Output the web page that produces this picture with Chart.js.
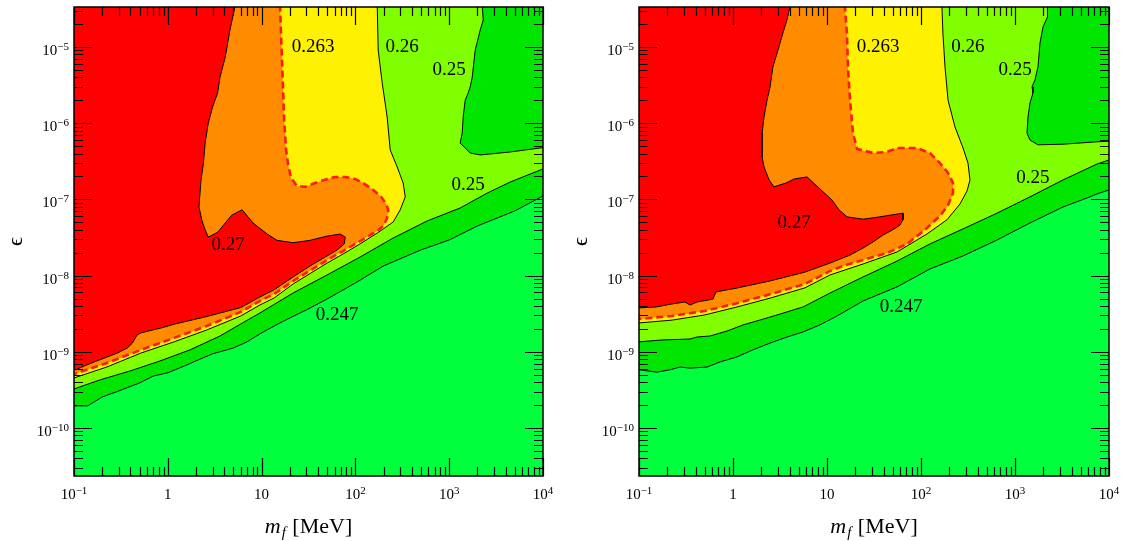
<!DOCTYPE html>
<html><head><meta charset="utf-8">
<script src="https://cdn.jsdelivr.net/npm/chart.js@4.4.1/dist/chart.umd.min.js"></script>
<style>
html,body{margin:0;padding:0;background:#fff;overflow:hidden;}
#wrap{position:relative;width:1126px;height:541px;}
canvas{position:absolute;top:0;}
</style></head><body>
<div id="wrap">
<canvas id="cL" width="563" height="541" style="left:0"></canvas>
<canvas id="cR" width="563" height="541" style="left:563px"></canvas>
</div>
<script>
// ---------- axes / tick labels ----------
const xRange = [0.1, 1e4];
const yRange = [2.34e-11, 3.35e-5];
const xTicks = [0.1, 1, 10, 100, 1000, 10000];
const xTickText = [['10','\u22121'],['1',''],['10',''],['10','2'],['10','3'],['10','4']];
const yTicks = [1e-10, 1e-9, 1e-8, 1e-7, 1e-6, 1e-5];
const yTickText = [['10','\u221210'],['10','\u22129'],['10','\u22128'],['10','\u22127'],['10','\u22126'],['10','\u22125']];
const xTitle = ['m', 'f', ' [MeV]'];
const yTitle = '\u03F5';

// ---------- left panel contours [m_f (MeV), epsilon] ----------
const L_c270 = [[5.2,3.4e-5],[4.6,1.67e-5],[4.1,7.4e-6],[3.6,4.0e-6],[3.4,2.5e-6],[3.0,1.63e-6],[2.7,1.0e-6],[2.5,5.5e-7],[2.4,3.0e-7],[2.26,1.8e-7],[2.15,8.0e-8],[2.3,5.4e-8],[2.5,4.0e-8],[2.7,3.2e-8],[3.4,3.7e-8],[4.8,6.2e-8],[6.2,7.3e-8],[8.1,4.9e-8],[11.5,3.5e-8],[14.6,2.9e-8],[21.7,2.7e-8],[32.9,2.9e-8],[50,3.3e-8],[69,3.5e-8],[78,3.2e-8],[76,2.6e-8],[64,2.17e-8],[50,1.81e-8],[33,1.34e-8],[21.7,9.6e-9],[13.6,6.5e-9],[9.6,5.24e-9],[6.0,3.8e-9],[2.6,2.9e-9],[1.17,2.3e-9],[0.91,2.1e-9],[0.52,1.77e-9],[0.47,1.66e-9],[0.42,1.3e-9],[0.37,1.12e-9],[0.29,9.6e-10],[0.164,7.35e-10],[0.1,5.7e-10]];
const L_c263 = [[15.75,3.4e-5],[16.1,1.53e-5],[16.5,6.75e-6],[16.95,2.73e-6],[17.4,1.1e-6],[18.25,4.45e-7],[19.2,2.83e-7],[20.6,1.91e-7],[23.9,1.5e-7],[29.1,1.46e-7],[37.2,1.64e-7],[50,1.85e-7],[60.8,1.97e-7],[77.7,1.97e-7],[99.4,1.85e-7],[121,1.64e-7],[155,1.33e-7],[188,1.08e-7],[213,8.7e-8],[224,7.26e-8],[218,5.7e-8],[198,4.48e-8],[171,3.85e-8],[144,3.41e-8],[112,2.84e-8],[74,2.1e-8],[50,1.6e-8],[21.7,8.49e-9],[13.6,5.73e-9],[9.6,4.64e-9],[6.0,3.33e-9],[2.6,2.18e-9],[1.17,1.52e-9],[0.52,1.06e-9],[0.225,7.13e-10],[0.1,5.1e-10]];
const L_c260 = [[171,3.4e-5],[175,9.1e-6],[193,3.4e-6],[218,1.21e-6],[235,4.45e-7],[279,2.66e-7],[323,1.64e-7],[340,1.08e-7],[300,7.26e-8],[253,5.05e-8],[198,4.09e-8],[171,3.62e-8],[112,2.6e-8],[74,1.92e-8],[50,1.46e-8],[21.7,7.76e-9],[13.6,5.08e-9],[9.6,4.11e-9],[6.0,2.95e-9],[2.6,1.93e-9],[1.17,1.35e-9],[0.52,9.64e-10],[0.225,6.32e-10],[0.1,4.53e-10]];
const L_c250 = [[0.1,3.25e-10],[0.189,4.27e-10],[0.396,5.6e-10],[0.826,7.57e-10],[1.73,1.06e-9],[3.6,1.61e-9],[6.0,2.32e-9],[9.6,3.23e-9],[21.7,5.91e-9],[50,1.02e-8],[112,1.75e-8],[253,3.11e-8],[582,5.21e-8],[1310,7.71e-8],[2543,1.21e-7],[4474,1.69e-7],[10000,2.51e-7]];
const L_c247 = [[0.1,1.95e-10],[0.14,1.95e-10],[0.2,2.55e-10],[0.3,3.06e-10],[0.5,3.9e-10],[0.7,4.8e-10],[1,5.3e-10],[1.5,6.5e-10],[2,7.6e-10],[3,9.4e-10],[5,1.12e-9],[7,1.35e-9],[10,1.77e-9],[15,2.32e-9],[20,2.78e-9],[30,3.54e-9],[50,4.93e-9],[100,8.0e-9],[200,1.34e-8],[500,2.17e-8],[1000,2.93e-8],[2000,4.48e-8],[5000,7.05e-8],[10000,1.11e-7]];
const L_island = [[2250,3.4e-5],[2306,2.26e-5],[2142,1.67e-5],[1894,9.1e-6],[1759,4.0e-6],[1675,3.0e-6],[1595,2.5e-6],[1481,2.0e-6],[1410,1.21e-6],[1376,7.4e-7],[1310,5.5e-7],[1675,4.06e-7],[2142,3.83e-7],[4474,4.19e-7],[9349,4.73e-7],[10000,4.75e-7]];
const L_labels = [['0.263',35.4,1.0e-5],['0.26',315,1.0e-5],['0.25',1000,5.0e-6],['0.25',1595,1.55e-7],['0.27',4.4,2.52e-8],['0.247',64,3.04e-9]];

// ---------- right panel contours ----------
const R_c270 = [[4.04,3.4e-5],[3.75,2.26e-5],[3.40,1.53e-5],[3.01,9.1e-6],[2.66,5.5e-6],[2.48,3.0e-6],[2.30,2.0e-6],[2.14,1.21e-6],[2.04,7.4e-7],[2.04,3.6e-7],[2.14,2.66e-7],[2.42,1.8e-7],[2.73,1.46e-7],[3.66,1.64e-7],[4.46,1.85e-7],[6.13,1.97e-7],[8.2,1.41e-7],[11.3,9.8e-8],[13.4,7.3e-8],[16.3,5.9e-8],[24.2,5.5e-8],[36.6,5.9e-8],[64.4,6.6e-8],[64.4,5.4e-8],[59.8,4.6e-8],[50.4,4.0e-8],[39.4,3.4e-8],[30.9,2.76e-8],[24.2,2.3e-8],[17.6,1.86e-8],[10.8,1.46e-8],[5.83,1.11e-8],[2.48,8.5e-9],[1.13,6.9e-9],[0.66,6.1e-9],[0.61,4.9e-9],[0.414,4.5e-9],[0.349,4.1e-9],[0.309,4.5e-9],[0.224,4.24e-9],[0.152,3.87e-9],[0.1,3.76e-9]];
const R_c263 = [[15.5,3.4e-5],[16.3,1.53e-5],[16.7,5.5e-6],[17.6,2.0e-6],[18.9,7.4e-7],[20.9,4.6e-7],[30.9,4.06e-7],[43.5,4.19e-7],[55.6,4.73e-7],[90.7,4.73e-7],[124.6,4.06e-7],[159,3.0e-7],[194,2.22e-7],[219,1.64e-7],[219,1.21e-7],[194,8.4e-8],[159,6.05e-8],[110,3.97e-8],[71,2.6e-8],[43.5,1.98e-8],[24.2,1.6e-8],[14.8,1.34e-8],[10.8,1.15e-8],[5.83,7.76e-9],[2.54,5.73e-9],[1.13,4.37e-9],[0.50,3.43e-9],[0.224,2.95e-9],[0.1,2.69e-9]];
const R_c260 = [[167,3.4e-5],[171,1.53e-5],[180,5.5e-6],[194,2.0e-6],[230,8.9e-7],[280,4.73e-7],[316,3.0e-7],[332,1.8e-7],[309,1.29e-7],[260,8.7e-8],[189,5.4e-8],[116,3.52e-8],[55.6,2.04e-8],[24.2,1.42e-8],[10.8,1.02e-8],[5.83,6.9e-9],[2.54,5.1e-9],[1.13,3.9e-9],[0.50,3.04e-9],[0.224,2.6e-9],[0.1,2.39e-9]];
const R_c250 = [[0.1,1.35e-9],[0.18,1.43e-9],[0.349,1.47e-9],[0.414,1.56e-9],[0.569,1.61e-9],[0.863,1.87e-9],[1.28,2.25e-9],[1.94,2.61e-9],[2.94,3.04e-9],[5.56,3.87e-9],[10.8,5.91e-9],[24.2,9.6e-9],[55.6,1.55e-8],[124.6,2.6e-8],[280,4.1e-8],[644,6.6e-8],[1444,1.08e-7],[3241,1.8e-7],[7454,2.91e-7],[10000,3.29e-7]];
const R_c247 = [[0.1,5.8e-10],[0.155,5.4e-10],[0.214,5.8e-10],[0.273,6.3e-10],[0.349,6.1e-10],[0.529,6.3e-10],[0.727,7.35e-10],[1.10,8.55e-10],[1.63,1.06e-9],[2.48,1.30e-9],[3.75,1.56e-9],[5.56,1.82e-9],[8.4,2.25e-9],[12.8,2.95e-9],[24.2,4.64e-9],[55.6,7.1e-9],[124.6,1.22e-8],[280,1.81e-8],[644,2.93e-8],[1444,4.9e-8],[3241,7.95e-8],[6283,1.08e-7],[7454,1.18e-7],[10000,1.33e-7]];
const R_island = [[2244,3.4e-5],[2190,2.48e-5],[1986,1.83e-5],[1845,1.13e-5],[1756,5.5e-6],[1632,3.7e-6],[1517,3.0e-6],[1554,2.5e-6],[1444,1.84e-6],[1375,1.21e-6],[1342,7.4e-7],[1444,6.0e-7],[1756,5.2e-7],[3241,5.3e-7],[7454,5.7e-7],[10000,5.8e-7]];
const R_labels = [['0.263',34.9,1.0e-5],['0.26',316,1.0e-5],['0.25',1000,5.0e-6],['0.25',1554,1.91e-7],['0.27',4.46,4.9e-8],['0.247',61.3,3.87e-9]];

// ---------- styles ----------
const COL = {c270:'#FF0000', c263:'#FF8C00', c260:'#FFF200', c250:'#80FF00', c247:'#00E600', base:'#00FF3C'};
const SERIF = '"Liberation Serif", "Times New Roman", serif';

// polygon helpers: close a contour with corners lying outside the plot (clipped)
const OUT_L = 0.03, OUT_R = 3e4, OUT_T = 1e-3;
const aboveLine = b => [[OUT_L, b[0][1]], ...b, [OUT_R, b[b.length-1][1]], [OUT_R, OUT_T], [OUT_L, OUT_T]];
const topLeft = b => [[b[0][0], OUT_T], ...b, [OUT_L, b[b.length-1][1]], [OUT_L, OUT_T]];
const topRight = b => [[b[0][0], OUT_T], ...b, [OUT_R, b[b.length-1][1]], [OUT_R, OUT_T]];

function ds(pts, fillColor, order, border, width, dash) {
  return {
    data: pts.map(p => ({x: p[0], y: p[1]})),
    fill: 'shape', backgroundColor: fillColor,
    borderColor: border, borderWidth: width, borderDash: dash || [],
    pointRadius: 0, tension: 0, order: order, clip: 0, spanGaps: true
  };
}

function drawPow(ctx, base, exp, x, y, align) {
  ctx.font = '15px ' + SERIF;
  const w1 = ctx.measureText(base).width;
  ctx.font = '11px ' + SERIF;
  const w2 = exp ? ctx.measureText(exp).width : 0;
  const w = w1 + w2;
  const x0 = align === 'center' ? x - w / 2 : x - w;
  ctx.textAlign = 'left'; ctx.textBaseline = 'alphabetic';
  ctx.font = '15px ' + SERIF;
  ctx.fillText(base, x0, y);
  if (exp) { ctx.font = '11px ' + SERIF; ctx.fillText(exp, x0 + w1, y - 5); }
}

function deco(labels) {
  return {
    id: 'deco',
    beforeDatasetsDraw(chart) {
      const {ctx, chartArea: a} = chart;
      ctx.save();
      ctx.fillStyle = COL.base;
      ctx.fillRect(a.left, a.top, a.right - a.left, a.bottom - a.top);
      ctx.restore();
    },
    afterDraw(chart) {
      const {ctx, chartArea: a, scales: {x, y}} = chart;
      ctx.save();
      // contour level labels
      ctx.fillStyle = '#000';
      ctx.font = '19px ' + SERIF;
      ctx.textAlign = 'center'; ctx.textBaseline = 'middle';
      labels.forEach(([t, m, e]) => ctx.fillText(t, x.getPixelForValue(m), y.getPixelForValue(e)));
      // inward ticks on all sides
      ctx.strokeStyle = '#000'; ctx.lineWidth = 1.2;
      ctx.beginPath();
      for (let d = -1; d <= 4; d++) {
        for (let k = 1; k <= 9; k++) {
          const v = k * Math.pow(10, d);
          if (v < xRange[0] * 0.999 || v > xRange[1] * 1.001) continue;
          const px = Math.round(x.getPixelForValue(v)) + 0.5;
          const L = k === 1 ? 18 : 9;
          ctx.moveTo(px, a.bottom); ctx.lineTo(px, a.bottom - L);
          ctx.moveTo(px, a.top); ctx.lineTo(px, a.top + L);
        }
      }
      for (let d = -12; d <= -5; d++) {
        for (let k = 1; k <= 9; k++) {
          const v = k * Math.pow(10, d);
          if (v < yRange[0] || v > yRange[1]) continue;
          const py = Math.round(y.getPixelForValue(v)) + 0.5;
          const L = k === 1 ? 18 : 9;
          ctx.moveTo(a.left, py); ctx.lineTo(a.left + L, py);
          ctx.moveTo(a.right, py); ctx.lineTo(a.right - L, py);
        }
      }
      ctx.stroke();
      // frame
      ctx.lineWidth = 1.5;
      ctx.strokeRect(a.left, a.top, a.right - a.left, a.bottom - a.top);
      // tick labels
      ctx.fillStyle = '#000';
      xTicks.forEach((v, i) => drawPow(ctx, xTickText[i][0], xTickText[i][1], x.getPixelForValue(v), a.bottom + 23, 'center'));
      yTicks.forEach((v, i) => drawPow(ctx, yTickText[i][0], yTickText[i][1], a.left - 5, y.getPixelForValue(v) + 8, 'right'));
      // x title: m_f [MeV]
      ctx.textBaseline = 'alphabetic'; ctx.textAlign = 'left';
      ctx.font = 'italic 22px ' + SERIF; const wm = ctx.measureText(xTitle[0]).width;
      ctx.font = 'italic 15px ' + SERIF; const wf = ctx.measureText(xTitle[1]).width;
      ctx.font = '22px ' + SERIF; const wr = ctx.measureText(xTitle[2]).width;
      const cx = (a.left + a.right) / 2, by = a.bottom + 57;
      let sx = cx - (wm + wf + 2 + wr) / 2;
      ctx.font = 'italic 22px ' + SERIF; ctx.fillText(xTitle[0], sx, by);
      ctx.font = 'italic 15px ' + SERIF; ctx.fillText(xTitle[1], sx + wm + 1, by + 4);
      ctx.font = '22px ' + SERIF; ctx.fillText(xTitle[2], sx + wm + wf + 2, by);
      // y title
      ctx.save();
      ctx.translate(a.left - 58, (a.top + a.bottom) / 2);
      ctx.rotate(-Math.PI / 2);
      ctx.textAlign = 'center'; ctx.textBaseline = 'middle';
      ctx.font = '22px ' + SERIF;
      ctx.fillText(yTitle, 0, 0);
      ctx.restore();
      ctx.restore();
    }
  };
}

function panel(id, pad, C, labels) {
  const datasets = [
    ds(aboveLine(C.c247), COL.c247, 10, '#000', 1),
    ds(aboveLine(C.c250), COL.c250, 9, '#000', 1),
    ds(topRight(C.island), COL.c247, 8, '#000', 1),
    ds(topLeft(C.c260), COL.c260, 7, '#000', 1),
    ds(topLeft(C.c263), COL.c263, 6, '#FF1A1A', 2.6, [7, 4]),
    ds(topLeft(C.c270), COL.c270, 5, '#000', 1)
  ];
  new Chart(document.getElementById(id), {
    type: 'line',
    data: {datasets},
    options: {
      responsive: false, animation: false, devicePixelRatio: 1, events: [],
      layout: {padding: pad},
      plugins: {legend: {display: false}, tooltip: {enabled: false}, title: {display: false}},
      scales: {
        x: {type: 'logarithmic', min: xRange[0], max: xRange[1], display: false},
        y: {type: 'logarithmic', min: yRange[0], max: yRange[1], display: false}
      }
    },
    plugins: [deco(labels)]
  });
}

panel('cL', {left: 74, right: 20, top: 7, bottom: 65},
  {c270: L_c270, c263: L_c263, c260: L_c260, c250: L_c250, c247: L_c247, island: L_island}, L_labels);
panel('cR', {left: 76, right: 17, top: 7, bottom: 65},
  {c270: R_c270, c263: R_c263, c260: R_c260, c250: R_c250, c247: R_c247, island: R_island}, R_labels);
</script>
</body></html>
